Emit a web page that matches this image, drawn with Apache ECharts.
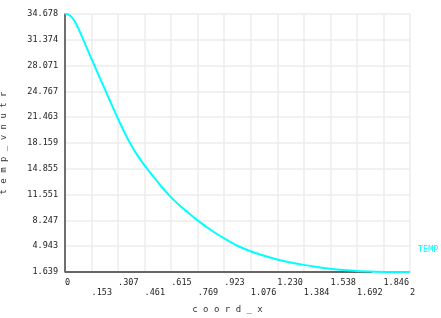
<!DOCTYPE html>
<html>
<head>
<meta charset="utf-8">
<script src="https://cdn.jsdelivr.net/npm/echarts@6/dist/echarts.min.js"></script>
<style>
  html, body { margin: 0; padding: 0; background: #fff; }
  #chart { width: 441px; height: 318px; }
</style>
</head>
<body>
<div id="chart"></div>
<script>
// 曲线数据 (coord_x, temp_vnutr)
const coordX = [0, 0.02, 0.04, 0.06, 0.08, 0.12, 0.16, 0.20, 0.24, 0.28, 0.32, 0.36, 0.40, 0.43, 0.461, 0.52, 0.57, 0.615, 0.66, 0.70, 0.769, 0.85, 0.923, 1.0, 1.076, 1.15, 1.23, 1.30, 1.384, 1.46, 1.538, 1.615, 1.692, 1.80, 1.90, 2.0];
const tempValues = [34.678, 34.6, 34.25, 33.6, 32.7, 30.65, 28.6, 26.6, 24.6, 22.6, 20.65, 18.85, 17.25, 16.25, 15.3, 13.65, 12.3, 11.2, 10.25, 9.5, 8.25, 6.95, 5.95, 5.0, 4.3, 3.75, 3.25, 2.9, 2.55, 2.28, 2.05, 1.88, 1.76, 1.68, 1.65, 1.639];

// 底部灰线
const baseX = [0, 1.78];
const baseY = [1.639, 1.639];

// 刻度
const xTicks = [0, 0.153846, 0.307692, 0.461538, 0.615385, 0.769231, 0.923077, 1.076923, 1.230769, 1.384615, 1.538462, 1.692308, 1.846154, 2];
const xTickLabels = ["0", ".153", ".307", ".461", ".615", ".769", ".923", "1.076", "1.230", "1.384", "1.538", "1.692", "1.846", "2"];
const yTicks = [1.639, 4.943, 8.247, 11.551, 14.855, 18.159, 21.463, 24.767, 28.071, 31.374, 34.678];
const yTickLabels = ["1.639", "4.943", "8.247", "11.551", "14.855", "18.159", "21.463", "24.767", "28.071", "31.374", "34.678"];

const mono = "DejaVu Sans Mono";

function nearestIndex(arr, v) {
  let best = 0;
  arr.forEach((t, i) => {
    if (Math.abs(t - v) < Math.abs(arr[best] - v)) best = i;
  });
  return best;
}

const mychart = echarts.init(document.getElementById("chart"));

const option = {
  animation: false,
  legend: {
    data: ["TEMP"],
    left: 413,
    top: 243,
    padding: 0,
    icon: "none",
    itemWidth: 0,
    selectedMode: false,
    textStyle: { color: "#00ffff", fontSize: 8.5, fontFamily: mono },
  },
  grid: { left: 65, top: 14, right: 31, bottom: 46, containLabel: false, outerBoundsMode: "none" },
  xAxis: {
    type: "value",
    min: 0,
    max: 2,
    name: "c o o r d _ x",
    nameLocation: "middle",
    nameGap: 33,
    nameTextStyle: { color: "#333", fontSize: 9, fontFamily: mono, padding: [0, 20, 0, 0] },
    axisLine: { show: false },
    axisTick: { show: false, customValues: xTicks },
    axisLabel: {
      customValues: xTicks,
      color: "#222",
      fontSize: 8.5,
      fontFamily: mono,
      align: "left",
      lineHeight: 10,
      margin: 6,
      formatter: (v) => {
        const i = nearestIndex(xTicks, v);
        return i % 2 ? "\n" + xTickLabels[i] : xTickLabels[i];
      },
    },
    splitLine: { show: true, lineStyle: { color: "#ececec", width: 1.5 } },
  },
  yAxis: {
    type: "value",
    min: 1.639,
    max: 34.678,
    name: "t e m p _ v n u t r",
    nameLocation: "middle",
    nameGap: 57,
    nameTextStyle: { color: "#333", fontSize: 9, fontFamily: mono },
    axisLine: { show: true, lineStyle: { color: "#444", width: 1.5 } },
    axisTick: { show: false, customValues: yTicks },
    axisLabel: {
      customValues: yTicks,
      color: "#222",
      fontSize: 8.5,
      fontFamily: mono,
      margin: 7,
      formatter: (v) => yTickLabels[nearestIndex(yTicks, v)],
    },
    splitLine: { show: true, lineStyle: { color: "#ececec", width: 1.5 } },
  },
  series: [
    {
      name: "base",
      type: "line",
      data: baseX.map((x, i) => [x, baseY[i]]),
      symbol: "none",
      z: 1,
      lineStyle: { color: "#666", width: 2 },
    },
    {
      name: "TEMP",
      type: "line",
      data: coordX.map((x, i) => [x, tempValues[i]]),
      symbol: "none",
      smooth: 0.35,
      z: 3,
      lineStyle: { color: "#00ffff", width: 2 },
      itemStyle: { color: "#00ffff" },
    },
  ],
};
option && mychart.setOption(option);
</script>
</body>
</html>
